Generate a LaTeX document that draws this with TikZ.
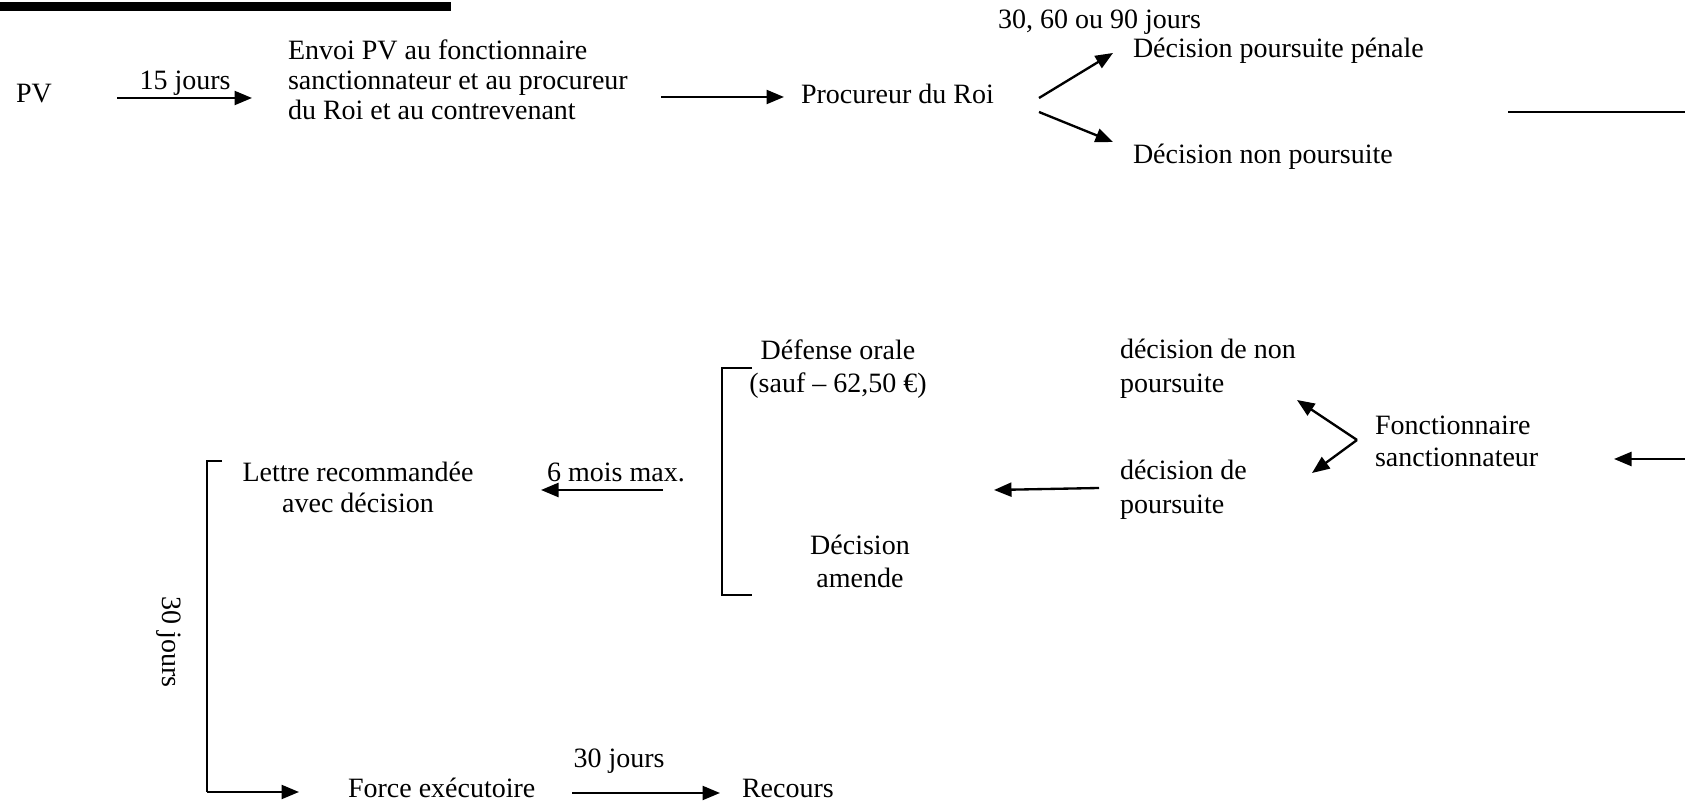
\documentclass[tikz,border=0pt]{standalone}
\usepackage{fontspec}
\setmainfont{Liberation Serif}
\usetikzlibrary{arrows.meta}
\begin{document}
\begin{tikzpicture}[x=0.42857pt,y=-0.42857pt,
  txt/.style={font=\fontsize{12}{13.3}\selectfont, inner sep=0pt, outer sep=0pt},
  multi/.style={inner sep=0pt, outer sep=0pt, font=\fontsize{12}{#1}\selectfont, execute at begin node=\strut},
  conn/.style={line width=1pt, -{Triangle[length=7.5pt,width=6pt]}},
  plainline/.style={line width=1pt},
  bracket/.style={line width=0.8pt}]
\useasboundingbox (0,0) rectangle (1685,801);
% top bar
\fill (0,2) rectangle (451,11);

% --- top row ---
\node[txt, anchor=base west] (pv) at (16,102.5) {PV};
\coordinate (a1s) at (117,98);
\coordinate (a1e) at (252,98);
\draw[conn] (a1s) -- (a1e);
\node[txt, anchor=base] (l15) at (185,90) {15 jours};
\node[multi=12.86pt, anchor=north west, align=left] (envoi) at (288,40)
  {Envoi PV au fonctionnaire\\sanctionnateur et au procureur\\du Roi et au contrevenant};
\coordinate (a2s) at (661,97);
\coordinate (a2e) at (784,97);
\draw[conn] (a2s) -- (a2e);
\node[txt, anchor=base west] (proc) at (801,104) {Procureur du Roi};
\coordinate (pu) at (1039,98);
\coordinate (pl) at (1039,112);
\coordinate (dpe) at (1113,53);
\coordinate (dne) at (1113,142);
\draw[conn] (pu) -- (dpe);
\draw[conn] (pl) -- (dne);
\node[txt, anchor=base west] (delai) at (998,29) {30, 60 ou 90 jours};
\node[txt, anchor=base west] (dpp) at (1133,58) {Décision poursuite pénale};
\node[txt, anchor=base west] (dnp) at (1133,163.5) {Décision non poursuite};
\coordinate (trs) at (1508,112);
\coordinate (tre) at (1685,112);
\draw[plainline] (trs) -- (tre);

% --- middle row ---
\coordinate (ras) at (1685,459);
\coordinate (rae) at (1614,459);
\draw[conn] (ras) -- (rae);
\node[multi=13.8pt, anchor=north west, align=left] (fonct) at (1375,415.5)
  {Fonctionnaire\\sanctionnateur};
\coordinate (fv) at (1357,440);
\coordinate (fu) at (1297,400);
\coordinate (fl) at (1312,473);
\draw[conn] (fv) -- (fu);
\draw[conn] (fv) -- (fl);
\node[multi=14.7pt, anchor=north west, align=left] (dnon) at (1120,339)
  {décision de non\\poursuite};
\node[multi=14.7pt, anchor=north west, align=left] (dpour) at (1120,460)
  {décision de\\poursuite};
\coordinate (dps) at (1099,488);
\coordinate (dpt) at (994,490);
\draw[conn] (dps) -- (dpt);
\coordinate (b2a) at (752,368);
\coordinate (b2b) at (722,368);
\coordinate (b2c) at (722,595);
\coordinate (b2d) at (752,595);
\draw[bracket] (b2a) -- (b2b) -- (b2c) -- (b2d);
\node[multi=14.3pt, anchor=north, align=center] (def) at (838,339.6)
  {Défense orale\\(sauf – 62,50 €)};
\node[multi=14.3pt, anchor=north, align=center] (damende) at (860,534.6)
  {Décision\\amende};
\coordinate (m6s) at (663,490);
\coordinate (m6e) at (541,490);
\draw[conn] (m6s) -- (m6e);
\node[txt, anchor=base] (m6) at (616,482) {6 mois max.};
\node[multi=13.3pt, anchor=north, align=center] (lettre) at (358,462)
  {Lettre recommandée\\avec décision};

% --- left bracket and bottom row ---
\coordinate (b1a) at (222,461);
\coordinate (b1b) at (207,461);
\coordinate (b1c) at (207,792);
\coordinate (b1d) at (299,792);
\draw[bracket] (b1a) -- (b1b) -- (b1c);
\draw[conn] (b1c) -- (b1d);
\node[txt, rotate=-90] (j30v) at (169,642) {30 jours};
\node[txt, anchor=base west] (force) at (348,798) {Force exécutoire};
\coordinate (fes) at (572,793);
\coordinate (fee) at (720,793);
\draw[conn] (fes) -- (fee);
\node[txt, anchor=base] (j30h) at (619,768) {30 jours};
\node[txt, anchor=base west] (recours) at (742,798) {Recours};
\end{tikzpicture}
\end{document}
